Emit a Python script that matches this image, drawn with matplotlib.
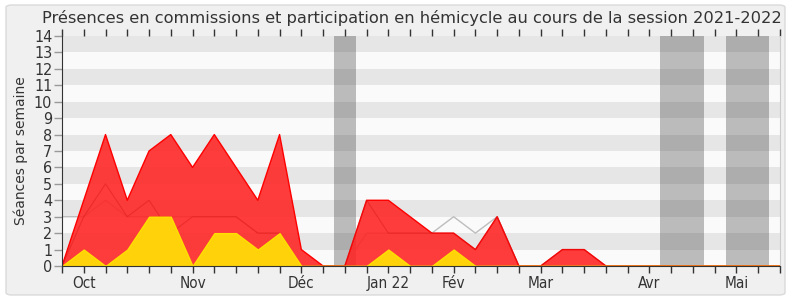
import numpy as np
import matplotlib
matplotlib.use("Agg")
import matplotlib.pyplot as plt
from matplotlib.patches import FancyBboxPatch

plt.rcParams["font.family"] = ["DejaVu Sans"]

# ----------------------------
# Data (one value per week, session 2021-2022)
# ----------------------------
weeks = np.arange(34)
presence_commission = [0, 4, 8, 4, 7, 8, 6, 8, 6, 4, 8, 1, 0, 0, 4, 4, 3, 2, 2, 1, 3,
                       0, 0, 1, 1, 0, 0, 0, 0, 0, 0, 0, 0, 0]
participation_commission = [0, 3, 5, 3, 4, 2, 3, 3, 3, 2, 2, 0, 0, 0, 4, 2, 2, 2, 2, 1, 3,
                            0, 0, 1, 1, 0, 0, 0, 0, 0, 0, 0, 0, 0]
presence_hemicycle = [3, 3, 4, 3, 3, 3, 3, 3, 3, 2, 2, 0, 0, 0, 2, 2, 2, 2, 3, 2, 3,
                      0, 0, 0, 0, 0, 0, 0, 0, 0, 0, 0, 0, 0]
participation_hemicycle = [0, 1, 0, 1, 3, 3, 0, 2, 2, 1, 2, 0, 0, 0, 0, 1, 0, 0, 1, 0, 0,
                           0, 0, 0, 0, 0, 0, 0, 0, 0, 0, 0, 0, 0]
vacances = [(12.5, 13.5), (27.5, 29.5), (30.5, 32.5)]
month_weeks = [1, 6, 11, 15, 18, 22, 27, 31]
month_labels = ["Oct", "Nov", "Déc", "Jan 22", "Fév", "Mar", "Avr", "Mai"]

# ----------------------------
# Figure
# ----------------------------
fig = plt.figure(figsize=(7.9, 3.0), dpi=100, facecolor="white")
frame = FancyBboxPatch((6 / 790, 5 / 300), 779 / 790, 290 / 300,
                       boxstyle="round,pad=0,rounding_size=0.008",
                       transform=fig.transFigure, facecolor="#F0F0F0",
                       edgecolor="#DADADA", linewidth=1, zorder=-10)
fig.patches.append(frame)

ax = fig.add_axes([62 / 790, 34 / 300, 718 / 790, 230 / 300])
ax.set_zorder(1)
ax.set_facecolor("#FAFAFA")
ax.set_xlim(0, 33)
ax.set_ylim(0, 14)

# horizontal stripes
for k in range(1, 14, 2):
    ax.axhspan(k, k + 1, color="#E6E6E6", lw=0, zorder=0.1)

# holidays
for a, b in vacances:
    ax.axvspan(a, b, color="#2a2a2a", alpha=0.3, lw=0, zorder=0.2)

ax.plot(weeks, presence_hemicycle, color="#BDBDBD", lw=1, zorder=0.5)
ax.fill_between(weeks, 0, presence_commission, facecolor="#FF2020", alpha=0.87,
                edgecolor="none", zorder=1)
ax.plot(weeks, presence_commission, color="#FF0000", lw=1, zorder=1.1)
ax.plot(weeks, participation_commission, color="#D81818", lw=0.8, alpha=0.45, zorder=1.2)
ax.fill_between(weeks, 0, participation_hemicycle, facecolor="#FFD20A",
                edgecolor="#FFE000", lw=1, zorder=1.3)

# axes styling
ax.set_yticks(range(15))
ax.set_xticks(weeks)
labels = [""] * len(weeks)
for w, lab in zip(month_weeks, month_labels):
    labels[w] = lab
ax.set_xticklabels(labels)
ax.tick_params(axis="x", direction="out", length=5, width=1, color="#333333",
               labelsize=11, labelcolor="#333333", pad=2, top=True)
ax.tick_params(axis="y", direction="out", length=6, width=1, color="#999999",
               labelsize=11.5, labelcolor="#333333", pad=1)
for lab in ax.get_xticklabels() + ax.get_yticklabels():
    lab.set_fontstretch("condensed")

ax.spines["top"].set_visible(False)
ax.spines["right"].set_color("#CCCCCC")
ax.spines["left"].set_color("#333333")
ax.spines["bottom"].set_color("#333333")

ax.set_ylabel("Séances par semaine", fontsize=10, color="#333333", labelpad=4)

fig.text(412 / 790, 0.94, "Présences en commissions et participation en hémicycle "
         "au cours de la session 2021-2022", ha="center", va="center",
         fontsize=11.7, color="#333333")

fig.savefig("out.png", dpi=100, facecolor="white")
